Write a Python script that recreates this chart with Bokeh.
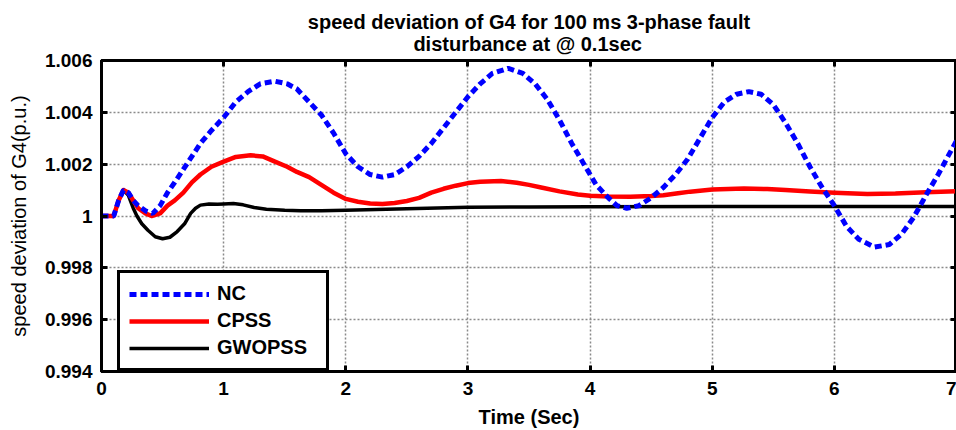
from bokeh.plotting import figure
from bokeh.models import (Range1d, FixedTicker, CustomJSTickFormatter, LinearAxis,
                          Legend, LegendItem, Title)
from bokeh.embed import file_html
from bokeh.resources import INLINE

# ---- data ----
t_nc = [0, 0.1, 0.14, 0.18, 0.22, 0.26, 0.3, 0.36, 0.42, 0.48, 0.54, 0.6, 0.67, 0.74, 0.81,
        0.9, 1.0, 1.1, 1.2, 1.3, 1.42, 1.52, 1.6, 1.7, 1.8, 1.9, 2.0, 2.1, 2.2, 2.3, 2.4, 2.5,
        2.6, 2.7, 2.8, 2.9, 3.0, 3.1, 3.2, 3.33, 3.45, 3.55, 3.65, 3.75, 3.85, 3.95, 4.05,
        4.15, 4.22, 4.3, 4.4, 4.5, 4.6, 4.7, 4.8, 4.9, 5.0, 5.1, 5.2, 5.3, 5.4, 5.5, 5.6,
        5.7, 5.8, 5.9, 6.0, 6.1, 6.2, 6.33, 6.45, 6.55, 6.65, 6.75, 6.85, 6.93, 7.0]
nc = [1.0, 1.0, 1.0006, 1.001, 1.0009, 1.0006, 1.0004, 1.0002, 1.0001, 1.0004, 1.0009,
      1.0013, 1.0018, 1.0023, 1.0028, 1.0033, 1.0038, 1.0044, 1.0048, 1.0051, 1.0052,
      1.0051, 1.0049, 1.0044, 1.0039, 1.0032, 1.0024, 1.0019, 1.0016, 1.0015, 1.0016,
      1.0019, 1.0023, 1.0028, 1.0034, 1.0040, 1.0046, 1.0051, 1.0055, 1.0057, 1.0055,
      1.0051, 1.0045, 1.0037, 1.0028, 1.0020, 1.0012, 1.0007, 1.0004, 1.0003, 1.0004,
      1.0007, 1.0011, 1.0016, 1.0022, 1.0030, 1.0038, 1.0044, 1.0047, 1.0048, 1.0047,
      1.0043, 1.0036, 1.0028, 1.0019, 1.0011, 1.0004, 0.9996, 0.9991, 0.9988, 0.9989,
      0.9993, 0.99995, 1.0008, 1.0016, 1.0023, 1.0029]

t_cpss = [0, 0.1, 0.14, 0.18, 0.22, 0.26, 0.3, 0.36, 0.41, 0.48, 0.54, 0.6, 0.67, 0.74,
          0.81, 0.9, 1.0, 1.1, 1.22, 1.32, 1.42, 1.52, 1.6, 1.7, 1.8, 1.9, 2.0, 2.1, 2.2,
          2.3, 2.4, 2.5, 2.6, 2.7, 2.8, 2.9, 3.0, 3.1, 3.27, 3.4, 3.5, 3.6, 3.75, 3.9, 4.0,
          4.15, 4.33, 4.5, 4.6, 4.72, 4.82, 5.0, 5.26, 5.45, 5.6, 5.8, 6.0, 6.27, 6.5, 6.75,
          7.0]
cpss = [1.0, 1.0, 1.0006, 1.001, 1.0009, 1.0006, 1.0003, 1.0001, 1.0000, 1.0001, 1.0004,
        1.0006, 1.0009, 1.0013, 1.0016, 1.0019, 1.0021, 1.00228, 1.00234, 1.0023, 1.0021,
        1.0019, 1.0017, 1.0015, 1.0012, 1.0009, 1.00066, 1.00055, 1.00048, 1.00046,
        1.0005, 1.00058, 1.0007, 1.0009, 1.00105, 1.00117, 1.00127, 1.00132, 1.00135,
        1.00128, 1.0012, 1.0011, 1.00095, 1.00083, 1.00078, 1.00075, 1.00074, 1.00077,
        1.0008, 1.00088, 1.00094, 1.00102, 1.00106, 1.00104, 1.001, 1.00095, 1.0009,
        1.00085, 1.00087, 1.00092, 1.00096]

t_gw = [0, 0.1, 0.14, 0.18, 0.22, 0.26, 0.29, 0.33, 0.38, 0.44, 0.5, 0.56, 0.62, 0.68,
        0.73, 0.77, 0.81, 0.88, 0.95, 1.0, 1.08, 1.16, 1.25, 1.35, 1.5, 1.63, 1.8, 2.0,
        2.25, 2.5, 2.75, 3.0, 3.5, 4.0, 5.0, 6.0, 7.0]
gwopss = [1.0, 1.0, 1.0006, 1.001, 1.0008, 1.0003, 1.0, 0.9997, 0.99945, 0.9992, 0.99912,
          0.99918, 0.9994, 0.9997, 1.0001, 1.0003, 1.00042, 1.00046, 1.00045, 1.00046,
          1.00048, 1.00043, 1.00033, 1.00026, 1.00022, 1.0002, 1.0002, 1.00022, 1.00025,
          1.00028, 1.00031, 1.00034, 1.00035, 1.00036, 1.00037, 1.00037, 1.00037]

x_ticks = [0, 1, 2, 3, 4, 5, 6, 7]
y_ticks = [0.994, 0.996, 0.998, 1.0, 1.002, 1.004, 1.006]

title_line1 = "speed deviation of G4 for 100 ms 3-phase fault"
title_line2 = "disturbance at @ 0.1sec"
x_label = "Time (Sec)"
y_label = "speed deviation of G4(p.u.)"
names = ["NC", "CPSS", "GWOPSS"]

FONT = "Liberation Sans"

p = figure(width=956, height=430, output_backend="svg", toolbar_location=None,
           x_range=Range1d(0, 7), y_range=Range1d(0.994, 1.006),
           min_border_left=101, min_border_right=0, min_border_top=60, min_border_bottom=57)

# multi-line title; the second line is centred under the first with no-break spaces
p.title = Title(text=title_line1 + "\n" + "\u00a0" * 19 + title_line2, align="center",
                text_font=FONT, text_font_size="20px", text_font_style="bold",
                text_color="black", standoff=12)

p.outline_line_color = "black"
p.outline_line_width = 3
p.background_fill_color = "white"
p.border_fill_color = "white"

yfmt = CustomJSTickFormatter(code="return tick.toFixed(3).replace(/\\.?0+$/, '');")

for ax in [p.xaxis[0], p.yaxis[0]]:
    ax.axis_line_width = 3
    ax.axis_line_color = "black"
    ax.major_tick_in = 6
    ax.major_tick_out = 0
    ax.major_tick_line_width = 3
    ax.minor_tick_line_color = None
    ax.major_label_text_font = FONT
    ax.major_label_text_font_size = "19px"
    ax.major_label_text_font_style = "bold"
    ax.major_label_text_color = "black"
    ax.axis_label_text_font = FONT
    ax.axis_label_text_font_size = "20px"
    ax.axis_label_text_color = "black"

p.xaxis[0].ticker = FixedTicker(ticks=x_ticks)
p.yaxis[0].ticker = FixedTicker(ticks=y_ticks)
p.yaxis[0].formatter = yfmt
p.xaxis[0].axis_label = x_label
p.yaxis[0].axis_label = y_label
p.xaxis[0].axis_label_text_font_style = "bold"
p.yaxis[0].axis_label_text_font_style = "normal"
p.xaxis[0].major_label_standoff = 10
p.xaxis[0].axis_label_standoff = 8
p.yaxis[0].major_label_standoff = 9
p.yaxis[0].axis_label_standoff = 12

blank = CustomJSTickFormatter(code="return '';")
for loc, tk in [("right", y_ticks), ("above", x_ticks)]:
    ax = LinearAxis(ticker=FixedTicker(ticks=tk), formatter=blank,
                    axis_line_width=3, axis_line_color="black",
                    major_tick_in=6, major_tick_out=0, major_tick_line_width=3,
                    minor_tick_line_color=None, major_label_standoff=0,
                    axis_label_standoff=0, major_label_text_font_size="0px")
    p.add_layout(ax, loc)

p.xgrid.ticker = FixedTicker(ticks=x_ticks)
p.ygrid.ticker = FixedTicker(ticks=y_ticks)
for g in [p.xgrid[0], p.ygrid[0]]:
    g.grid_line_color = "#8a8a8a"
    g.grid_line_width = 1.5
    g.grid_line_dash = "2 2"

r_gw = p.line(t_gw, gwopss, line_color="black", line_width=3.5, line_join="round")
r_cp = p.line(t_cpss, cpss, line_color="#ff0000", line_width=4.5, line_join="round")
r_nc = p.line(t_nc, nc, line_color="#0000ff", line_width=5, line_dash="7 4")

legend = Legend(items=[LegendItem(label=names[0], renderers=[r_nc]),
                       LegendItem(label=names[1], renderers=[r_cp]),
                       LegendItem(label=names[2], renderers=[r_gw])],
                location=(16, 0), margin=0, padding=9, spacing=4,
                glyph_width=80, glyph_height=20, label_height=20, label_width=100,
                label_standoff=8, label_text_font=FONT, label_text_font_size="20px",
                label_text_font_style="bold", label_text_color="black",
                border_line_color="black", border_line_width=3, border_line_alpha=1,
                background_fill_color="white", background_fill_alpha=1)
p.add_layout(legend, "center")

open("out.html", "w").write(file_html(p, INLINE))
